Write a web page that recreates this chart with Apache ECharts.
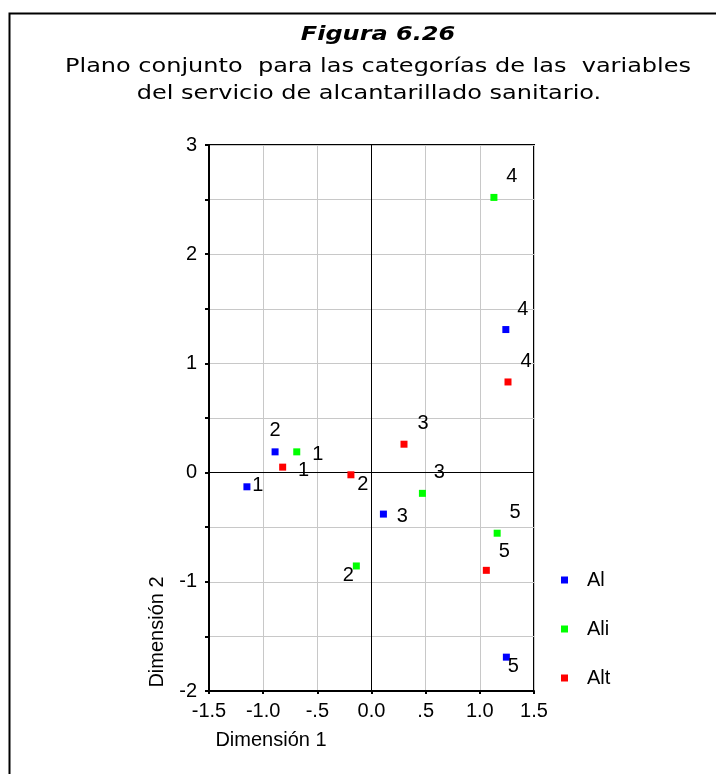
<!DOCTYPE html>
<html>
<head>
<meta charset="utf-8">
<script src="https://cdn.jsdelivr.net/npm/echarts@6/dist/echarts.min.js"></script>
<style>html,body{margin:0;padding:0;background:#fff;}#c{width:716px;height:774px;}</style>
</head>
<body>
<div id="c"></div>
<script>
// ---- data ----
var seriesNames = ['Al', 'Ali', 'Alt'];
var categoriesAl  = ['1', '2', '3', '4', '5'];
var categoriesAli = ['1', '2', '3', '4', '5'];
var categoriesAlt = ['1', '2', '3', '4', '5'];
var alX  = [-1.15, -0.89, 0.11, 1.24, 1.245];
var alY  = [-0.13, 0.19, -0.38, 1.31, -1.69];
var aliX = [-0.69, -0.14, 0.47, 1.13, 1.16];
var aliY = [0.19, -0.855, -0.19, 2.52, -0.555];
var altX = [-0.82, -0.19, 0.30, 1.26, 1.06];
var altY = [0.05, -0.02, 0.26, 0.83, -0.895];
var xTickLabels = {'-1.5':'-1.5','-1':'-1.0','-0.5':'-.5','0':'0.0','0.5':'.5','1':'1.0','1.5':'1.5'};
var yTickLabels = {'-2':'-2','-1':'-1','0':'0','1':'1','2':'2','3':'3'};
var titleText = 'Figura 6.26';
var subtitleLine1 = 'Plano conjunto  para las categorías de las  variables';
var subtitleLine2 = 'del servicio de alcantarillado sanitario.';
var xName = 'Dimensión 1';
var yName = 'Dimensión 2';

// ---- styling (label offsets in pixels, not data) ----
var colors = ['#0000ff', '#00ff00', '#ff0000'];
var labelOffsetsAl  = [[11,-1],[0,-21],[19,2],[17,-20],[7,9]];
var labelOffsetsAli = [[21,3],[-8,10],[17,-21],[18,-21],[18,-21]];
var labelOffsetsAlt = [[21,3],[12,10],[19,-21],[18,-20],[18,-19]];

function buildData(xs, ys, cats, offs) {
  return xs.map(function (x, i) {
    return {
      value: [x, ys[i]],
      name: cats[i],
      label: { offset: offs[i] }
    };
  });
}

var FONT = 'Liberation Sans, Arial, sans-serif';
var labelCommon = {
  show: true,
  position: 'inside',
  formatter: function (p) { return p.name; },
  color: '#000',
  fontFamily: FONT,
  fontSize: 20,
  align: 'center',
  verticalAlign: 'middle'
};

var chart = echarts.init(document.getElementById('c'), null, {renderer: 'canvas'});
var series = [
  [alX, alY, categoriesAl, labelOffsetsAl],
  [aliX, aliY, categoriesAli, labelOffsetsAli],
  [altX, altY, categoriesAlt, labelOffsetsAlt]
].map(function (s, i) {
  return {
    name: seriesNames[i],
    type: 'scatter',
    symbol: 'rect',
    symbolSize: 7,
    itemStyle: { color: colors[i], opacity: 1 },
    label: labelCommon,
    emphasis: { disabled: true },
    z: 5,
    data: buildData(s[0], s[1], s[2], s[3])
  };
});
series.push({
  type: 'scatter',
  data: [],
  silent: true,
  markLine: {
    silent: true,
    symbol: ['none', 'none'],
    label: { show: false },
    lineStyle: { color: '#000', width: 1, type: 'solid' },
    data: [{ xAxis: 0 }, { yAxis: 0 }],
    animation: false
  },
  z: 3
});

var option = {
  animation: false,
  backgroundColor: '#fff',
  grid: {
    left: 209, top: 145, width: 325, height: 546,
    show: true, borderColor: '#000', borderWidth: 2, backgroundColor: 'transparent'
  },
  xAxis: {
    type: 'value', min: -1.5, max: 1.5, interval: 0.5,
    axisLine: { show: true, onZero: false, lineStyle: { color: '#000', width: 2 } },
    axisTick: { show: true, length: 3, lineStyle: { color: '#000', width: 2 } },
    axisLabel: {
      margin: 10, color: '#000', fontFamily: FONT, fontSize: 20,
      formatter: function (v) { var k = String(Math.round(v * 10) / 10); return xTickLabels[k] !== undefined ? xTickLabels[k] : ''; }
    },
    splitLine: { show: true, lineStyle: { color: '#c8c8c8', width: 1 } }
  },
  yAxis: {
    type: 'value', min: -2, max: 3, interval: 0.5,
    axisLine: { show: true, onZero: false, lineStyle: { color: '#000', width: 2 } },
    axisTick: { show: true, length: 4, lineStyle: { color: '#000', width: 2 } },
    axisLabel: {
      margin: 12, color: '#000', fontFamily: FONT, fontSize: 20,
      formatter: function (v) { var k = String(Math.round(v * 10) / 10); return yTickLabels[k] !== undefined ? yTickLabels[k] : ''; }
    },
    splitLine: { show: true, lineStyle: { color: '#c8c8c8', width: 1 } }
  },
  legend: {
    data: seriesNames,
    orient: 'vertical',
    left: 556, top: 563,
    icon: 'rect', itemWidth: 7, itemHeight: 7, itemGap: 25,
    textStyle: { fontFamily: FONT, fontSize: 20, color: '#000', padding: [0, 0, 0, 14], lineHeight: 24 },
    selectedMode: false
  },
  graphic: [
    { type: 'rect', left: 7, top: 11, shape: { width: 800, height: 800 }, style: { fill: 'none', stroke: '#000', lineWidth: 2 }, z: -10, silent: true },
    { type: 'text', x: 378, y: 45, scaleX: 1.2, style: { text: titleText, font: 'italic bold 20px "DejaVu Sans"', fill: '#000', textAlign: 'center', textVerticalAlign: 'bottom' } },
    { type: 'text', x: 378, y: 77, scaleX: 1.2, style: { text: subtitleLine1, font: '20px "DejaVu Sans"', fill: '#000', textAlign: 'center', textVerticalAlign: 'bottom' } },
    { type: 'text', x: 369, y: 104, scaleX: 1.2, style: { text: subtitleLine2, font: '20px "DejaVu Sans"', fill: '#000', textAlign: 'center', textVerticalAlign: 'bottom' } },
    { type: 'text', x: 271, y: 740, style: { text: xName, font: '20px "Liberation Sans"', fill: '#000', textAlign: 'center', textVerticalAlign: 'middle' } },
    { type: 'text', x: 157, y: 632, rotation: Math.PI / 2, style: { text: yName, font: '20px "Liberation Sans"', fill: '#000', textAlign: 'center', textVerticalAlign: 'middle' } }
  ],
  series: series
};
chart.setOption(option);
</script>
</body>
</html>
